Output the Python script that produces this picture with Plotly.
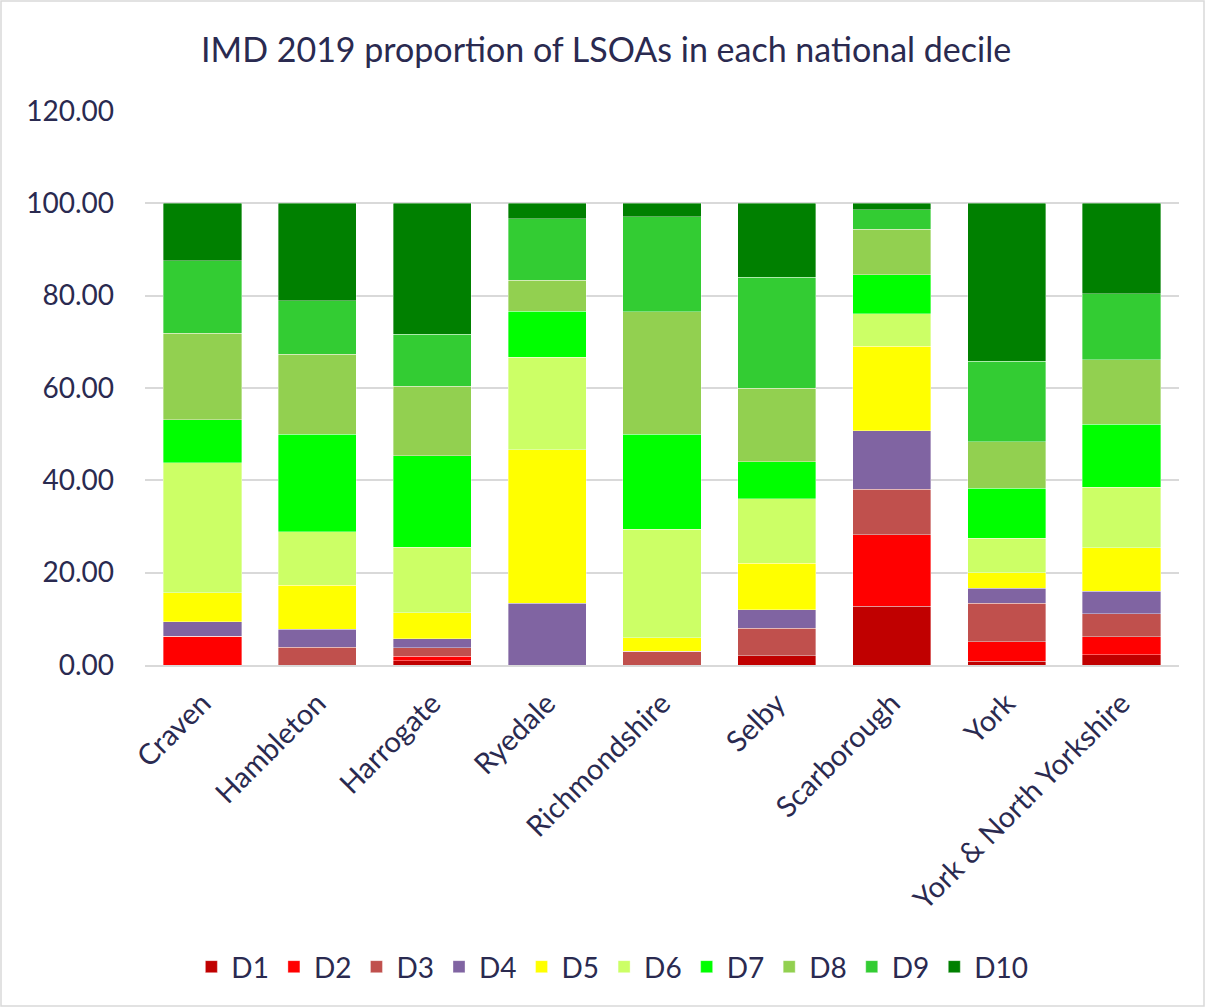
import plotly.graph_objects as go

categories = ["Craven", "Hambleton", "Harrogate", "Ryedale", "Richmondshire",
              "Selby", "Scarborough", "York", "York & North Yorkshire"]

D1 = [0, 0, 0.94, 0, 0, 2.0, 12.68, 0.83, 2.17]
D2 = [6.25, 0, 0.94, 0, 0, 0, 15.49, 4.17, 3.9]
D3 = [0, 3.85, 1.9, 0, 2.94, 6.0, 9.86, 8.33, 5.0]
D4 = [3.13, 3.85, 1.9, 13.33, 0, 4.0, 12.68, 3.33, 4.9]
D5 = [6.25, 9.62, 5.6, 33.33, 2.94, 10.0, 18.31, 3.33, 9.4]
D6 = [28.13, 11.54, 14.2, 20.0, 23.53, 14.0, 7.04, 7.5, 13.1]
D7 = [9.38, 21.15, 19.8, 10.0, 20.59, 8.0, 8.45, 10.83, 13.7]
D8 = [18.75, 17.31, 15.1, 6.67, 26.47, 16.0, 9.86, 10.0, 14.0]
D9 = [15.63, 11.54, 11.3, 13.33, 20.59, 24.0, 4.23, 17.5, 14.3]
D10 = [12.5, 21.15, 28.3, 3.33, 2.94, 16.0, 1.41, 34.17, 19.6]

series_names = ["D1", "D2", "D3", "D4", "D5", "D6", "D7", "D8", "D9", "D10"]
series_values = [D1, D2, D3, D4, D5, D6, D7, D8, D9, D10]
colors = ["#C00000", "#FF0000", "#C0504D", "#8064A2", "#FFFF00",
          "#CCFF66", "#00FF00", "#92D050", "#33CC33", "#008000"]

y_ticks = [0, 20, 40, 60, 80, 100, 120]

text_color = "#2A2A50"
font_family = "Lato, 'Open Sans', sans-serif"

fig = go.Figure()
for name, vals, col in zip(series_names, series_values, colors):
    fig.add_trace(go.Bar(
        x=categories, y=vals, name=name,
        marker=dict(color=col, line=dict(width=0.6, color="rgba(255,255,255,0.6)")),
    ))

fig.update_layout(
    barmode="stack",
    bargap=0.32,
    width=1205, height=1007,
    plot_bgcolor="white", paper_bgcolor="white",
    margin=dict(l=145, r=26, t=111, b=342, autoexpand=False),
    font=dict(family=font_family, color=text_color, size=28),
    title=dict(text="IMD 2019 proportion of LSOAs in each national decile",
               x=0.503, xanchor="center", y=0.95, yanchor="middle",
               font=dict(size=34, color=text_color, family=font_family)),
    legend=dict(orientation="h", x=0.452, xanchor="center", y=-0.545, yanchor="middle",
                font=dict(size=28, color=text_color), traceorder="normal",
                itemwidth=30, tracegroupgap=0),
    showlegend=True,
)

fig.update_yaxes(
    range=[0, 120], tickvals=y_ticks, tickformat=".2f",
    showgrid=True, gridcolor="#D9D9D9", gridwidth=1.5,
    zeroline=False, showline=False, ticks="",
    tickfont=dict(size=28, color=text_color), ticklabelstandoff=30,
)
fig.update_xaxes(
    tickangle=-45, showgrid=False, showline=True, linecolor="#D9D9D9", linewidth=1.5,
    ticks="", tickfont=dict(size=29, color=text_color), ticklabelstandoff=8,
)

# outer chart border
fig.add_shape(type="rect", xref="paper", yref="paper",
              x0=-144/1034, x1=1+25/1034, y0=-341/554, y1=1+110/554,
              line=dict(color="#D9D9D9", width=1.5), fillcolor="rgba(0,0,0,0)", layer="below")

fig.write_html("out.html", config={"displayModeBar": False},
               post_script="document.body.style.margin='0';document.body.style.overflow='hidden';")
